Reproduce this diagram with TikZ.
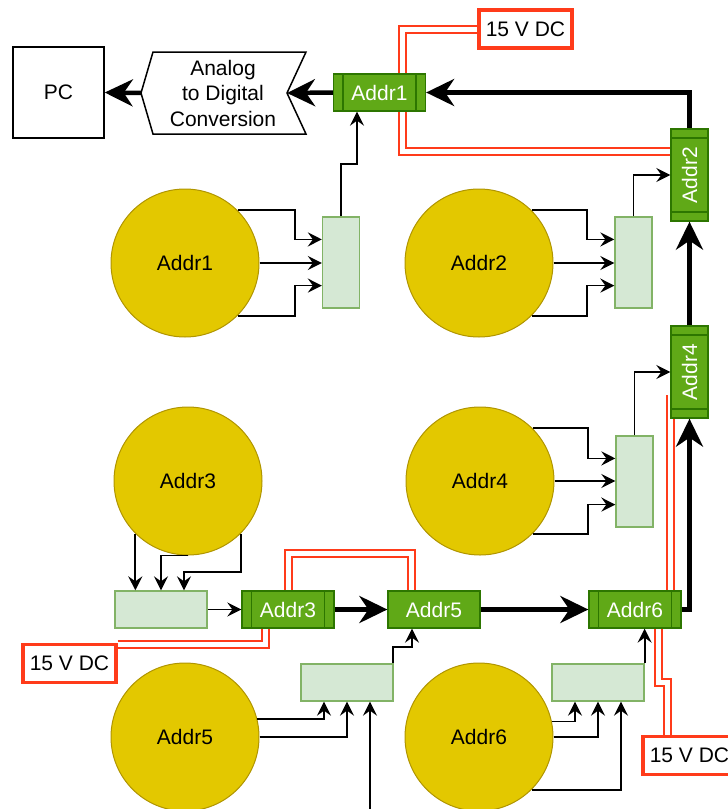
\documentclass[tikz,border=0pt]{standalone}
\usepackage{fontspec}
\setmainfont{Liberation Sans}
\usetikzlibrary{arrows.meta, calc, positioning, backgrounds}
\definecolor{modFill}{HTML}{60A917}
\definecolor{modStroke}{HTML}{2D7600}
\definecolor{mixFill}{HTML}{D5E8D4}
\definecolor{mixStroke}{HTML}{82B366}
\definecolor{sensFill}{HTML}{E3C800}
\definecolor{sensStroke}{HTML}{B09500}
\definecolor{pwrRed}{HTML}{FF3B1A}
\tikzset{
    every node/.style={font=\fontsize{21}{25.5}\selectfont},
    sensor/.style={circle, draw=sensStroke, fill=sensFill, line width=1pt, inner sep=0pt, minimum size=148pt},
    mixBox/.style={rectangle, draw=mixStroke, fill=mixFill, line width=1.3pt, inner sep=0pt},
    mixV/.style={mixBox, minimum width=37pt, minimum height=91pt},
    mixH/.style={mixBox, minimum width=92pt, minimum height=37pt},
    addrBare/.style={rectangle, draw=modStroke, fill=modFill, line width=1.3pt, text=white, inner sep=0pt, minimum width=92pt, minimum height=37pt},
    addrMod/.style={addrBare, path picture={
        \draw[modStroke, line width=1.3pt] ([xshift=9.5pt]path picture bounding box.north west) -- ([xshift=9.5pt]path picture bounding box.south west)
            ([xshift=-9.5pt]path picture bounding box.north east) -- ([xshift=-9.5pt]path picture bounding box.south east);}},
    addrModV/.style={addrBare, minimum width=37pt, minimum height=92pt, path picture={
        \draw[modStroke, line width=1.3pt] ([yshift=-9pt]path picture bounding box.north west) -- ([yshift=-9pt]path picture bounding box.north east)
            ([yshift=9pt]path picture bounding box.south west) -- ([yshift=9pt]path picture bounding box.south east);}},
    pcBox/.style={rectangle, draw, line width=1.5pt, minimum size=91pt, inner sep=0pt},
    pwrBox/.style={rectangle, draw=pwrRed, fill=white, line width=3.2pt, minimum width=93pt, minimum height=38pt, inner sep=0pt},
    busEdge/.style={-{Stealth[length=28pt, width=27pt, inset=9pt]}, line width=4.5pt},
    sigEdge/.style={-{Stealth[length=14pt, width=14pt, inset=5pt]}, line width=1.8pt},
    pwrLine/.style={draw=pwrRed, line width=2pt, double=white, double distance=5pt},
}
\newcommand{\feedEast}[2]{
    % three taps from sensor #1 into the west side of box #2
    \coordinate (tapA) at ($(#2.north west)!0.25!(#2.south west)$);
    \coordinate (tapC) at ($(#2.north west)!0.75!(#2.south west)$);
    \draw[sigEdge] (#1.45) -| ($(tapA)+(-27,0)$) -- (tapA);
    \draw[sigEdge] (#1.east) -- (#1.east -| #2.west);
    \draw[sigEdge] (#1.-45) -| ($(tapC)+(-27,0)$) -- (tapC);
}

\begin{document}
\begin{tikzpicture}[x=1pt, y=-1pt]

        \useasboundingbox (0,0) rectangle (728,809);

        % sensors
        \node[sensor] (c1) at (185,263) {Addr1};
        \node[sensor] (c2) at (479,263) {Addr2};
        \node[sensor] (c3) at (188,481) {Addr3};
        \node[sensor] (c4) at (480,481) {Addr4};
        \node[sensor] (c5) at (185,737) {Addr5};
        \node[sensor] (c6) at (479,737) {Addr6};

        % mixing boxes
        \node[mixV] (mb1) at (341,262.5) {};
        \node[mixV] (mb2) at (633.5,262.5) {};
        \node[mixV] (mb4) at (634.5,481.5) {};
        \node[mixH] (mb3) at (161,609.5) {};
        \node[mixH] (mb5) at (347,682.5) {};
        \node[mixH] (mb6) at (598,682.5) {};

        % pc and converter
        \node[pcBox] (pc) at (58.5,92.5) {PC};
        \coordinate (adcL) at (141,93);
        \coordinate (adcR) at (287,93);
        \draw[line width=1.5pt] (adcL) -- (153,52) -- (306,52) -- (adcR) -- (306,134) -- (153,134) -- cycle;
        \node[align=center] (adc) at (223,93) {Analog\\to Digital\\Conversion};

        % address modules
        \node[addrMod] (A1) at (379.5,92.5) {Addr1};
        \node[addrModV] (A2) at (689.5,175) {\rotatebox{90}{Addr2}};
        \node[addrModV] (A4) at (689.5,372) {\rotatebox{90}{Addr4}};
        \node[addrMod] (A3) at (288,609.5) {Addr3};
        \node[addrBare] (A5) at (434,609.5) {Addr5};
        \node[addrMod] (A6) at (635,609.5) {Addr6};

        % 15 V supply
        \node[pwrBox] (pwr1) at (525.5,29) {15 V DC};
        \node[pwrBox] (pwr2) at (69.5,663.5) {15 V DC};
        \node[pwrBox] (pwr3) at (689.5,755.5) {15 V DC};
        \begin{scope}[on background layer]
            \coordinate (w1) at ($(A1.south)+(22.5,40)$);
            \coordinate (w3) at ($(A5.north)+(-23,-36.5)$);
            \draw[pwrLine] (pwr1.west) -| (w1) -- (w1 -| A2.west);
            \draw[pwrLine] (A3.north) |- (w3) -- (w3 |- A5.north);
            \draw[pwrLine] ($(pwr2.north east)+(0,1.5)$) -| ($(A3.south)+(-22.5,0)$);
            \draw[pwrLine] ($(pwr3.north)+(-22.5,0)$) |- ($(A6.south)+(23,54)$) -- ($(A6.south)+(23,0)$);
            \draw[pwrLine] (A6.north -| A4.west) -- ($(A4.west)+(0,23)$);
        \end{scope}

        % bus
        \draw[busEdge] (A3.east) -- (A5.west);
        \draw[busEdge] (A5.east) -- (A6.west);
        \draw[busEdge] (A6.east) -| (A4.south);
        \draw[busEdge] (A4.north) -- (A2.south);
        \draw[busEdge] (A2.north) |- (A1.east);
        \draw[busEdge] (A1.west) -- (adcR);
        \draw[busEdge] (adcL) -- (pc.east);

        % sensor taps
        \feedEast{c1}{mb1}
        \feedEast{c2}{mb2}
        \feedEast{c4}{mb4}
        \draw[sigEdge] (c3.225) -- (c3.225 |- mb3.north);
        \draw[sigEdge] (c3.south) -| (mb3.north);
        \draw[sigEdge] (c3.-45) |- ($(mb3.north)+(23,-18)$) -- ($(mb3.north)+(23,0)$);
        \draw[sigEdge] (c5.14) -| ($(mb5.south)+(-23,0)$);
        \draw[sigEdge] (c5.east) -| (mb5.south);
        \draw[sigEdge] (c5.south) -| ($(mb5.south)+(23,0)$);
        \draw[sigEdge] (c6.12) -| ($(mb6.south)+(-23,0)$);
        \draw[sigEdge] (c6.east) -| (mb6.south);
        \draw[sigEdge] (c6.-45) -| ($(mb6.south)+(23,0)$);

        % box outputs
        \draw[sigEdge] (mb1.north) |- ($(A1.south)+(-22.5,52)$) -- ($(A1.south)+(-22.5,0)$);
        \draw[sigEdge] (mb2.north) |- (A2.west);
        \draw[sigEdge] (mb4.north) |- (A4.west);
        \draw[sigEdge] (mb3.east) -- (A3.west);
        \draw[sigEdge] ($(mb5.north east)+(-1,0)$) |- ($(A5.south)+(-22,18)$) -- ($(A5.south)+(-22,0)$);
        \draw[sigEdge] (mb6.north east) -- (mb6.north east |- A6.south);

    \end{tikzpicture}
\end{document}
